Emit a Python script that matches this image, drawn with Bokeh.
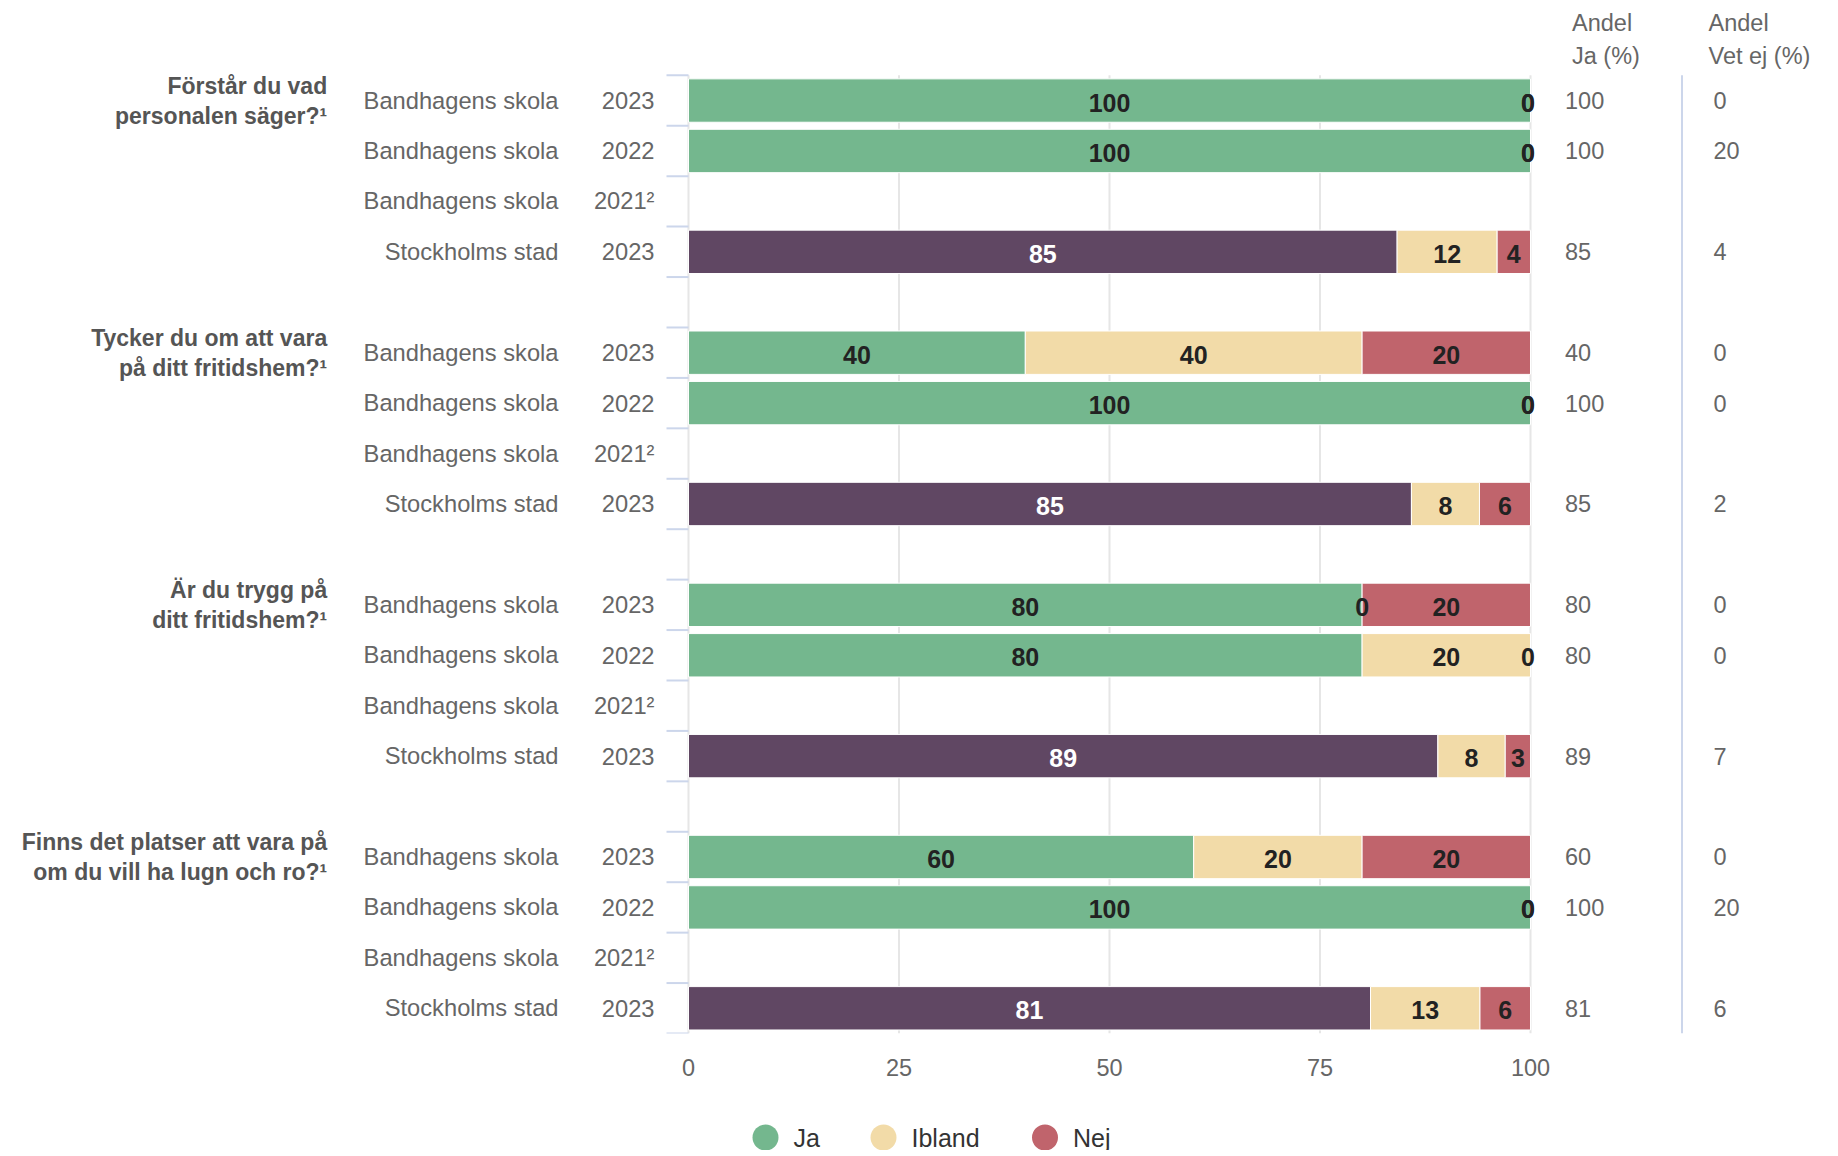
from bokeh.plotting import figure
from bokeh.models import Range1d, ColumnDataSource, FixedTicker
from bokeh.layouts import column
from bokeh.core.properties import value
from bokeh.embed import file_html
from bokeh.resources import INLINE

# ---------------- data ----------------
questions = [
    "Förstår du vad\npersonalen säger?¹",
    "Tycker du om att vara\npå ditt fritidshem?¹",
    "Är du trygg på\nditt fritidshem?¹",
    "Finns det platser att vara på\nom du vill ha lugn och ro?¹",
]
units = ["Bandhagens skola", "Bandhagens skola", "Bandhagens skola", "Stockholms stad"]
years = ["2023", "2022", "2021²", "2023"]
series = ["Ja", "Ibland", "Nej"]
# 16 rows: 4 questions x (2023, 2022, 2021², Stockholm 2023)
ja = [100, 100, None, 85, 40, 100, None, 85, 80, 80, None, 89, 60, 100, None, 81]
ibland = [0, 0, None, 12, 40, 0, None, 8, 0, 20, None, 8, 20, 0, None, 13]
nej = [0, 0, None, 4, 20, 0, None, 6, 20, 0, None, 3, 20, 0, None, 6]
andel_ja = [100, 100, None, 85, 40, 100, None, 85, 80, 80, None, 89, 60, 100, None, 81]
andel_vet_ej = [0, 20, None, 4, 0, 0, None, 2, 0, 0, None, 7, 0, 20, None, 6]
col_headers = ["Andel\nJa (%)", "Andel\nVet ej (%)"]
x_ticks = [0, 25, 50, 75, 100]

# ---------------- styles ----------------
GREEN = "#74B78E"
BEIGE = "#F2DBA8"
RED = "#C0646C"
PURPLE = "#604763"
FONT = value("Liberation Sans")
LABEL_COL = "#666666"
TITLE_COL = "#555555"

# ---------------- layout (pixels) ----------------
W = 1830
H1 = 1094
FH = 1033           # frame height of main figure
PX_X0 = 688         # frame x pixel of value 0
PX_PER = 8.42       # pixels per percent unit
SLOT = 50.43        # pixels per category slot
NSLOT = 19
X_START = -PX_X0 / PX_PER
X_END = (W - PX_X0) / PX_PER
Y_TOP = NSLOT - FH / SLOT


def dx(px):
    return (px - PX_X0) / PX_PER


def dy(px):
    return Y_TOP + px / SLOT


p = figure(width=W, height=H1, output_backend="svg", toolbar_location=None,
           x_range=Range1d(X_START, X_END), y_range=Range1d(NSLOT, Y_TOP),
           y_axis_location=None, min_border_left=0, min_border_right=0,
           min_border_top=0, min_border_bottom=H1 - FH)
p.outline_line_color = None
p.xgrid.visible = False
p.ygrid.visible = False
p.xaxis.ticker = FixedTicker(ticks=x_ticks)
p.xaxis.axis_line_color = None
p.xaxis.major_tick_line_color = None
p.xaxis.minor_tick_line_color = None
p.xaxis.major_label_text_font = "Liberation Sans"
p.xaxis.major_label_text_font_size = "23.5px"
p.xaxis.major_label_text_color = LABEL_COL
p.xaxis.major_label_standoff = 19

# grid lines over the category region
p.segment(x0=x_ticks, x1=x_ticks, y0=[0] * len(x_ticks), y1=[NSLOT] * len(x_ticks),
          line_color="#e6e6e6", line_width=2)
# category tick marks at slot boundaries
bounds = list(range(NSLOT + 1))
p.segment(x0=[dx(666)] * len(bounds), x1=[0] * len(bounds), y0=bounds, y1=bounds,
          line_color="#ccd6eb", line_width=2)
# separator between the two side columns
p.segment(x0=[dx(1681.5)], x1=[dx(1681.5)], y0=[0], y1=[NSLOT],
          line_color="#ccd6eb", line_width=2)

# rows
row_y, row_unit, row_year = [], [], []
for q in range(len(questions)):
    for r in range(len(units)):
        row_y.append(q * 5 + r + 0.5)
        row_unit.append(units[r])
        row_year.append(years[r])

bars = {s: dict(y=[], left=[], right=[], color=[]) for s in series}
lab = dict(x=[], y=[], text=[], color=[])
for i, y in enumerate(row_y):
    vals = [ja[i], ibland[i], nej[i]]
    if vals[0] is None:
        continue
    tot = float(sum(vals))
    cum = 0.0
    for s, v in zip(series, vals):
        w = v / tot * 100.0
        if s == "Ja":
            col = PURPLE if row_unit[i] == "Stockholms stad" else GREEN
        elif s == "Ibland":
            col = BEIGE
        else:
            col = RED
        if w > 0:
            bars[s]["y"].append(y)
            bars[s]["left"].append(cum)
            bars[s]["right"].append(cum + w)
            bars[s]["color"].append(col)
        lab["x"].append(min(cum + w / 2, 99.7))
        lab["y"].append(y + 0.04)
        lab["text"].append(str(v))
        lab["color"].append("#ffffff" if col == PURPLE else "#222222")
        cum += w

for s in series:
    p.hbar(y="y", left="left", right="right", height=0.86, fill_color="color",
           line_color="white", line_width=1, source=ColumnDataSource(bars[s]))

p.text(x="x", y="y", text="text", text_color="color", source=ColumnDataSource(lab),
       text_font=FONT, text_font_size="25px", text_font_style="bold",
       text_align="center", text_baseline="middle")

# category labels
p.text(x=[dx(558)] * len(row_y), y=row_y, text=row_unit, text_font=FONT,
       text_font_size="23.7px", text_color=LABEL_COL, text_align="right",
       text_baseline="middle")
p.text(x=[dx(654)] * len(row_y), y=row_y, text=row_year, text_font=FONT,
       text_font_size="23.7px", text_color=LABEL_COL, text_align="right",
       text_baseline="middle")

# question titles (two lines each)
tx, ty, tt = [], [], []
for q, title in enumerate(questions):
    for k, line in enumerate(title.split("\n")):
        tx.append(dx(326.7))
        ty.append(q * 5 + 0.21 + k * 0.59)
        tt.append(line)
p.text(x=tx, y=ty, text=tt, text_font=FONT, text_font_size="23px",
       text_font_style="bold", text_color=TITLE_COL, text_align="right",
       text_baseline="middle")

# side columns
c1y = [row_y[i] for i in range(len(row_y)) if andel_ja[i] is not None]
c1t = [str(v) for v in andel_ja if v is not None]
c2y = [row_y[i] for i in range(len(row_y)) if andel_vet_ej[i] is not None]
c2t = [str(v) for v in andel_vet_ej if v is not None]
p.text(x=[dx(1564.5)] * len(c1y), y=c1y, text=c1t, text_font=FONT, text_font_size="23.5px",
       text_color=LABEL_COL, text_align="left", text_baseline="middle")
p.text(x=[dx(1713)] * len(c2y), y=c2y, text=c2t, text_font=FONT, text_font_size="23.5px",
       text_color=LABEL_COL, text_align="left", text_baseline="middle")

hx, hy, ht = [], [], []
for cx, h in zip([1571.5, 1708], col_headers):
    for k, line in enumerate(h.split("\n")):
        hx.append(dx(cx))
        hy.append(dy(22 + k * 33))
        ht.append(line)
p.text(x=hx, y=hy, text=ht, text_font=FONT, text_font_size="23.5px",
       text_color=LABEL_COL, text_align="left", text_baseline="middle")

# ---------------- legend figure ----------------
H2 = 1150 - H1
leg = figure(width=W, height=H2, output_backend="svg", toolbar_location=None,
             x_range=Range1d(0, W), y_range=Range1d(H2, 0),
             x_axis_location=None, y_axis_location=None,
             min_border_left=0, min_border_right=0, min_border_top=0, min_border_bottom=0)
leg.outline_line_color = None
leg.xgrid.visible = False
leg.ygrid.visible = False
leg_x = [765, 883, 1044.5]
leg_y = [1137 - H1] * 3
leg.scatter(x=leg_x, y=leg_y, size=26, marker="circle",
            fill_color=[GREEN, BEIGE, RED], line_color=None)
leg.text(x=[x + 28 for x in leg_x], y=leg_y, text=series, text_font=FONT,
         text_font_size="25px", text_color="#333333", text_align="left",
         text_baseline="middle")

layout = column(p, leg, spacing=0)
open("out.html", "w").write(file_html(layout, INLINE))
